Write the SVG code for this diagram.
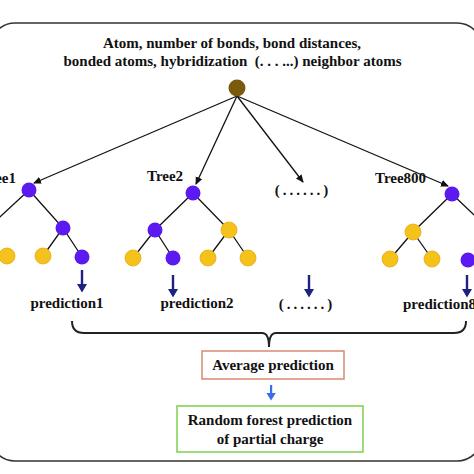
<svg xmlns="http://www.w3.org/2000/svg" width="474" height="474" viewBox="0 0 474 474">
<defs>
<style>
text{font-family:"Liberation Serif","Times New Roman",serif;font-weight:bold;font-size:15px;fill:#111}
.c{text-anchor:middle}
.e{stroke:#111;stroke-width:1.3;fill:none}
.p{fill:#5a1af0}
.y{fill:#f5c21c;stroke:#e6a90e;stroke-width:0.8}
.nv{fill:#1c2280}
</style>
<marker id="ah" markerWidth="8" markerHeight="8" refX="7" refY="4" orient="auto" markerUnits="userSpaceOnUse">
<path d="M0,0.5 L8,4 L0,7.5 Z" fill="#111"/>
</marker>
</defs>
<rect width="474" height="474" fill="#fff"/>
<rect x="-10" y="23" width="492" height="438" rx="25" fill="none" stroke="#333" stroke-width="1.6"/>
<g id="title">
<text class="c" x="232" y="48">Atom, number of bonds, bond distances,</text>
<text class="c" x="232.5" y="66" style="white-space:pre">bonded atoms, hybridization  (. . . ...) neighbor atoms</text>
</g>
<g id="connectors">
<line class="e" x1="237" y1="96" x2="34" y2="183" marker-end="url(#ah)"/>
<line class="e" x1="237" y1="96" x2="196" y2="184" marker-end="url(#ah)"/>
<line class="e" x1="237" y1="96" x2="303" y2="182" marker-end="url(#ah)"/>
<line class="e" x1="237" y1="96" x2="448" y2="186" marker-end="url(#ah)"/>
<path class="e" d="M29,190 L-12,228 M29,190 L63,228 L43,256 M63,228 L82,257"/>
<path class="e" d="M193,193 L155,230 L133,258 M155,230 L173,258 M193,193 L229,230 L208,258 M229,230 L248,258"/>
<path class="e" d="M452,194 L413,232 L390,259 M413,232 L432,259 M452,194 L492,232"/>
<path d="M72,321 Q72,333 84,333 H262 Q269,333 269,347 Q269,333 276,333 H454 Q466,333 466,321" fill="none" stroke="#222" stroke-width="2"/>
<path class="nv" d="M80.8,270 h2.4 v14 h3.8 l-5,8.5 l-5,-8.5 h3.8 z"/>
<path class="nv" d="M171.8,275 h2.4 v14 h3.8 l-5,8.5 l-5,-8.5 h3.8 z"/>
<path class="nv" d="M307.8,275 h2.4 v14 h3.8 l-5,8.5 l-5,-8.5 h3.8 z"/>
<path class="nv" d="M465.8,275 h2.4 v14 h3.8 l-5,8.5 l-5,-8.5 h3.8 z"/>
<path d="M270,385 h2.2 v8 h3.6 l-4.7,7.5 l-4.7,-7.5 h3.6 z" fill="#3a6ee8"/>
</g>
<g id="root"><circle cx="237" cy="88" r="8.5" fill="#7a5a0c"/></g>
<g id="tree1">
<text x="16" y="183" text-anchor="end">Tree1</text>
<circle class="p" cx="29" cy="190" r="7.5"/>
<circle class="p" cx="63" cy="228" r="7.5"/>
<circle class="y" cx="7" cy="256" r="8"/>
<circle class="y" cx="43" cy="256" r="8"/>
<circle class="p" cx="82" cy="257" r="7.5"/>
<text class="c" x="67" y="308">prediction1</text>
</g>
<g id="tree2">
<text x="147" y="181">Tree2</text>
<circle class="p" cx="193" cy="193" r="7.5"/>
<circle class="p" cx="155" cy="230" r="7.5"/>
<circle class="y" cx="229" cy="230" r="8"/>
<circle class="y" cx="133" cy="258" r="8"/>
<circle class="p" cx="173" cy="258" r="7.5"/>
<circle class="y" cx="208" cy="258" r="8"/>
<circle class="y" cx="248" cy="258" r="8"/>
<text class="c" x="197" y="308">prediction2</text>
</g>
<g id="treeDots">
<text class="c" x="303" y="195" style="letter-spacing:3px">(......)</text>
<text class="c" x="307" y="309" style="letter-spacing:3px">(......)</text>
</g>
<g id="tree800">
<text x="375" y="183">Tree800</text>
<circle class="p" cx="452" cy="194" r="7.5"/>
<circle class="y" cx="413" cy="232" r="8"/>
<circle class="y" cx="390" cy="259" r="8"/>
<circle class="y" cx="432" cy="259" r="8"/>
<circle class="p" cx="468" cy="260" r="7.5"/>
<text x="403" y="309">prediction800</text>
</g>
<g id="average">
<rect x="202" y="351" width="142" height="28" fill="#fff" stroke="#d98a70" stroke-width="1.5"/>
<text class="c" x="273" y="370">Average prediction</text>
</g>
<g id="result">
<rect x="177" y="406" width="186" height="46" fill="#fff" stroke="#7cd04c" stroke-width="1.5"/>
<text class="c" x="270" y="425">Random forest prediction</text>
<text class="c" x="270" y="444">of partial charge</text>
</g>
</svg>
